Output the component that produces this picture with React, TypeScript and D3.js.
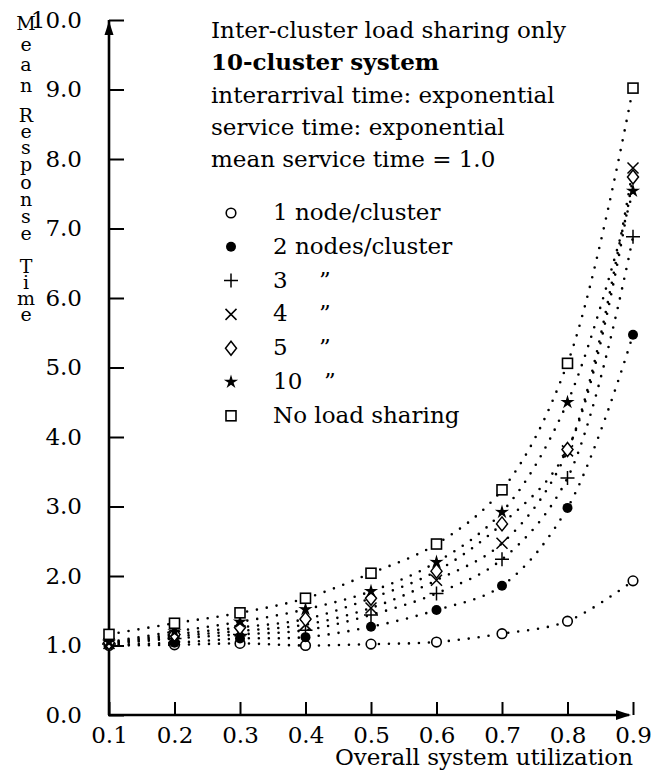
import React, { useEffect, useRef } from 'react'
import * as d3 from 'd3'

const font = '"DejaVu Serif", serif'
const fontSize = 23

// overall system utilization (x) and mean response time per configuration (y)
const utilization = [0.1, 0.2, 0.3, 0.4, 0.5, 0.6, 0.7, 0.8, 0.9]
const responseTicks = [0, 1, 2, 3, 4, 5, 6, 7, 8, 9, 10]

const oneNode = [1.0, 1.01, 1.03, 1.0, 1.02, 1.05, 1.17, 1.35, 1.93]
const twoNodes = [1.01, 1.04, 1.1, 1.12, 1.27, 1.51, 1.86, 2.98, 5.47]
const threeNodes = [1.02, 1.1, 1.16, 1.22, 1.44, 1.75, 2.24, 3.41, 6.88]
const fourNodes = [1.03, 1.13, 1.21, 1.3, 1.54, 1.94, 2.47, 3.8, 7.87]
const fiveNodes = [1.04, 1.16, 1.26, 1.38, 1.68, 2.07, 2.75, 3.82, 7.74]
const tenNodes = [1.05, 1.2, 1.34, 1.52, 1.78, 2.2, 2.92, 4.5, 7.54]
const noSharing = [1.16, 1.32, 1.47, 1.68, 2.04, 2.46, 3.24, 5.06, 9.02]

const headerLines = [
  'Inter-cluster load sharing only',
  '10-cluster system',
  'interarrival time: exponential',
  'service time: exponential',
  'mean service time = 1.0',
]

const seriesKinds = ['circleOpen', 'circleFilled', 'plus', 'cross', 'diamond', 'star', 'square']
const seriesLabels = ['1 node/cluster', '2 nodes/cluster', '3', '4', '5', '10', 'No load sharing']
const seriesDitto = [false, false, true, true, true, true, false]
const seriesValues = [oneNode, twoNodes, threeNodes, fourNodes, fiveNodes, tenNodes, noSharing]

const yTitle = ['M', 'e', 'a', 'n', 'R', 'e', 's', 'p', 'o', 'n', 's', 'e', 'T', 'i', 'm', 'e']
const yTitleBase = [30, 51, 71, 92, 122, 138, 154, 171, 189, 206, 223, 240, 273, 289, 305, 321]

const starPath = (r: number) => {
  let p = ''
  for (let k = 0; k < 10; k++) {
    const a = -Math.PI / 2 + (k * Math.PI) / 5
    const rr = k % 2 === 0 ? r : r * 0.36
    p += (k === 0 ? 'M' : 'L') + (rr * Math.cos(a)).toFixed(2) + ',' + (rr * Math.sin(a)).toFixed(2)
  }
  return p + 'Z'
}

function Marker({ kind, cx, cy }: { kind: string; cx: number; cy: number }) {
  const t = 'translate(' + cx + ',' + cy + ')'
  if (kind === 'circleOpen')
    return <circle cx={cx} cy={cy} r={4.8} fill="#fff" stroke="#000" strokeWidth={1.6} />
  if (kind === 'circleFilled') return <circle cx={cx} cy={cy} r={5} fill="#000" />
  if (kind === 'square')
    return <rect x={cx - 5} y={cy - 5} width={10} height={10} fill="#fff" stroke="#000" strokeWidth={1.6} />
  if (kind === 'plus')
    return <path transform={t} d="M-7,0H7M0,-7V7" stroke="#000" strokeWidth={1.5} />
  if (kind === 'cross')
    return <path transform={t} d="M-5.5,-5.5L5.5,5.5M-5.5,5.5L5.5,-5.5" stroke="#000" strokeWidth={1.5} />
  if (kind === 'diamond')
    return <path transform={t} d="M0,-7L5.5,0L0,7L-5.5,0Z" fill="#fff" stroke="#000" strokeWidth={1.5} />
  return <path transform={t} d={starPath(7.5)} fill="#000" />
}

export default function App() {
  const gX = useRef<SVGGElement>(null)
  const gY = useRef<SVGGElement>(null)

  const xScale = d3.scaleLinear().domain([0.1, 0.9]).range([109, 633])
  const yScale = d3.scaleLinear().domain([0, 10]).range([715, 20])

  useEffect(() => {
    const xAxis = d3.axisBottom(xScale)
      .tickValues(utilization)
      .tickSizeInner(-13)
      .tickSizeOuter(0)
      .tickPadding(12)
      .tickFormat(d3.format('.1f'))
    const yAxis = d3.axisLeft(yScale)
      .tickValues(responseTicks)
      .tickSizeInner(-15)
      .tickSizeOuter(0)
      .tickPadding(27)
      .tickFormat(d3.format('.1f'))

    const gx = d3.select(gX.current).call(xAxis as any)
    const gy = d3.select(gY.current).call(yAxis as any)
    for (const g of [gx, gy]) {
      g.select('.domain').remove()
      g.attr('font-family', font).attr('font-size', fontSize)
      g.selectAll('.tick line').attr('stroke', '#000').attr('stroke-width', 2)
      g.selectAll('.tick text').attr('fill', '#000')
    }
  }, [])

  const line = d3.line<number>()
    .x((d, i) => xScale(utilization[i]))
    .y(d => yScale(d))
    .curve(d3.curveCatmullRom.alpha(0.5))

  const x0 = xScale(0.1)
  const y0 = yScale(0)
  const yTop = yScale(10)
  const xEnd = xScale(0.9)

  return (
    <svg width={665} height={771} style={{ position: 'absolute', left: 0, top: 0, background: '#fff' }}
      fontFamily={font} fontSize={fontSize}>
      <rect width={665} height={771} fill="#fff" />

      {/* curves */}
      {seriesValues.map((vals, s) => (
        <path key={'c' + s} d={line(vals) || ''} fill="none" stroke="#000" strokeWidth={2.6}
          strokeLinecap="round" strokeDasharray="0,10" />
      ))}

      {/* axes */}
      <g ref={gX} transform={'translate(0,' + y0 + ')'} />
      <g ref={gY} transform={'translate(' + x0 + ',0)'} />
      <line x1={x0} y1={y0} x2={x0} y2={yTop} stroke="#000" strokeWidth={2.6} />
      <line x1={x0 - 1} y1={y0} x2={xEnd - 4} y2={y0} stroke="#000" strokeWidth={2.6} />
      <path d={'M' + x0 + ',' + (yTop + 1) + 'L' + (x0 - 4.5) + ',' + (yTop + 15) + 'L' + (x0 + 4.5) + ',' + (yTop + 15) + 'Z'} fill="#000" />
      <path d={'M' + (xEnd - 2) + ',' + y0 + 'L' + (xEnd - 17) + ',' + (y0 - 5) + 'L' + (xEnd - 17) + ',' + (y0 + 5) + 'Z'} fill="#000" />

      {/* markers */}
      {seriesValues.map((vals, s) => (
        <g key={'m' + s}>
          {vals.map((v, i) => (
            <Marker key={i} kind={seriesKinds[s]} cx={xScale(utilization[i])} cy={yScale(v)} />
          ))}
        </g>
      ))}

      {/* y title, stacked letters */}
      {yTitle.map((ch, i) => (
        <text key={'t' + i} x={26} y={yTitleBase[i]} textAnchor="middle" fontSize={19}>{ch}</text>
      ))}

      <text x={633} y={765} textAnchor="end">Overall system utilization</text>

      {/* header */}
      {headerLines.map((txt, i) => (
        <text key={'h' + i} x={211} y={38 + i * 32.3} fontWeight={i === 1 ? 'bold' : 'normal'}>{txt}</text>
      ))}

      {/* legend */}
      {seriesLabels.map((lab, i) => {
        const by = 220 + i * 33.8
        return (
          <g key={'l' + i}>
            <Marker kind={seriesKinds[i]} cx={231} cy={by - 7} />
            <text x={273} y={by}>{lab}</text>
            {seriesDitto[i] && <text x={lab.length > 1 ? 324 : 319} y={by}>{'\u201D'}</text>}
          </g>
        )
      })}
    </svg>
  )
}
